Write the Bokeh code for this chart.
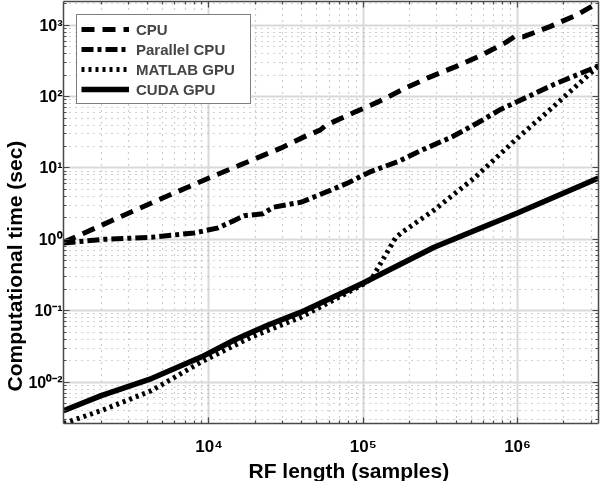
from bokeh.plotting import figure
from bokeh.models import FixedTicker, LogAxis, Legend, LegendItem, Title
from bokeh.embed import file_html
from bokeh.resources import INLINE

# ---- data ----
cpu_n = [1140, 4240, 10000, 29400, 42700, 52500, 57500, 89700, 107000, 126000,
         184000, 267000, 398000, 597000, 841000, 955000, 1096000, 1622000, 2455000, 3350000]
cpu_t = [0.91, 3.24, 7.24, 19.1, 28.2, 33.9, 39.8, 61.7, 72.4, 85.1,
         129, 186, 263, 389, 575, 692, 692, 955, 1413, 2089]

par_n = [1140, 2100, 4240, 8050, 11500, 16900, 22400, 26100, 39500, 61700,
         79400, 112000, 168000, 245000, 372000, 550000, 776000, 1000000, 1720000, 3350000]
par_t = [0.89, 1.0, 1.07, 1.23, 1.45, 2.14, 2.29, 2.82, 3.31, 4.90,
         6.17, 8.91, 12.3, 18.2, 26.9, 42.7, 66.1, 85.1, 148, 269]

mgpu_n = [1140, 2000, 4240, 8900, 18800, 39500, 100000, 115000, 162000, 176000,
          288000, 525000, 1000000, 1650000, 3350000]
mgpu_t = [0.00263, 0.00398, 0.00759, 0.0191, 0.0427, 0.0813, 0.234, 0.295, 1.05, 1.23,
          2.57, 7.24, 26.3, 67.6, 269]

cuda_n = [1140, 2000, 4240, 8900, 14600, 24200, 39500, 100000, 288000, 1000000, 3350000]
cuda_t = [0.00398, 0.00646, 0.0112, 0.0224, 0.0389, 0.0631, 0.0955, 0.245, 0.776, 2.34, 7.24]

x_major = [1e4, 1e5, 1e6]
x_minor = [m * 10 ** e for e in (3, 4, 5, 6) for m in range(2, 10)]
x_labels = {1e4: "10\u2074", 1e5: "10\u2075", 1e6: "10\u2076"}
y_major = [1e-2, 1e-1, 1.0, 10.0, 100.0, 1000.0]
y_minor = [m * 10.0 ** e for e in (-3, -2, -1, 0, 1, 2, 3) for m in range(2, 10)]
y_labels = {1e-2: "10\u2070\u207b\u00b2", 1e-1: "10\u207b\u00b9", 1.0: "10\u2070",
            10.0: "10\u00b9", 100.0: "10\u00b2", 1000.0: "10\u00b3"}
x_title = "RF length (samples)"
y_title = "Computational time (sec)"

FONT = "Liberation Sans"
AX = "#4a4a4a"

p = figure(frame_width=535, frame_height=422, x_axis_type="log", y_axis_type="log",
           x_range=(1140, 3.35e6), y_range=(0.00263, 2150),
           output_backend="svg", toolbar_location=None,
           min_border_left=80, min_border_right=2, min_border_top=10, min_border_bottom=57)
p.styles = {"position": "fixed", "left": "-17px", "top": "-9px"}
p.outline_line_color = None
p.background_fill_color = "white"

xt = FixedTicker(ticks=x_major, minor_ticks=x_minor)
yt = FixedTicker(ticks=y_major, minor_ticks=y_minor)
bottom = p.below[0]
left = p.left[0]
bottom.ticker = xt
left.ticker = yt
p.xgrid.ticker = xt
p.ygrid.ticker = yt

for g in (p.xgrid[0], p.ygrid[0]):
    g.grid_line_color = "#d9d9d9"
    g.grid_line_width = 2
    g.minor_grid_line_color = "#a0a0a0"
    g.minor_grid_line_width = 1.2
    g.minor_grid_line_dash = "1 5"

right = LogAxis(ticker=yt, major_label_overrides={t: "" for t in y_major})
top = LogAxis(ticker=xt, major_label_overrides={t: "" for t in x_major})
p.add_layout(right, "right")
p.add_layout(top, "above")

for ax in (bottom, left, right, top):
    ax.axis_line_color = AX
    ax.axis_line_width = 1.5
    ax.major_tick_line_color = AX
    ax.minor_tick_line_color = AX
    ax.major_tick_line_width = 1.2
    ax.minor_tick_line_width = 1.2
    ax.major_tick_in = 6
    ax.major_tick_out = 0
    ax.minor_tick_in = 3
    ax.minor_tick_out = 0
    ax.major_label_text_font = FONT
    ax.major_label_text_font_style = "bold"
    ax.major_label_text_font_size = "17px"
    ax.major_label_text_color = "black"

for ax in (right, top):
    ax.major_label_standoff = 0
    ax.major_label_text_font_size = "1px"

left.major_label_text_font_size = "16px"
bottom.major_label_overrides = x_labels
left.major_label_overrides = y_labels
bottom.major_label_standoff = 13
left.major_label_standoff = 1

# axis titles, placed off-centre as in the reference
p.add_layout(Title(text=x_title, align="left", offset=185, standoff=0, vertical_align="top",
                   text_font=FONT, text_font_style="bold", text_font_size="21px",
                   text_color="black"), "below")
p.add_layout(Title(text=y_title, align="left", offset=32, standoff=0, vertical_align="bottom",
                   text_font=FONT, text_font_style="bold", text_font_size="21px",
                   text_color="black"), "left")

r1 = p.line(cpu_n, cpu_t, line_color="black", line_width=5, line_dash="13 8")
r2 = p.line(par_n, par_t, line_color="black", line_width=5, line_dash="12 4 4 4")
r3 = p.line(mgpu_n, mgpu_t, line_color="black", line_width=5, line_dash="3 4")
r4 = p.line(cuda_n, cuda_t, line_color="black", line_width=5.5)

legend = Legend(items=[LegendItem(label="CPU", renderers=[r1]),
                       LegendItem(label="Parallel CPU", renderers=[r2]),
                       LegendItem(label="MATLAB GPU", renderers=[r3]),
                       LegendItem(label="CUDA GPU", renderers=[r4])],
                location="top_left", margin=13, padding=4, spacing=0,
                glyph_width=48, glyph_height=20, label_height=20, label_width=110,
                label_standoff=7, label_text_font=FONT, label_text_font_style="bold",
                label_text_font_size="15px", border_line_color="black",
                border_line_width=1.5, background_fill_alpha=1.0)
p.add_layout(legend)

open("out.html", "w").write(file_html(p, INLINE))
